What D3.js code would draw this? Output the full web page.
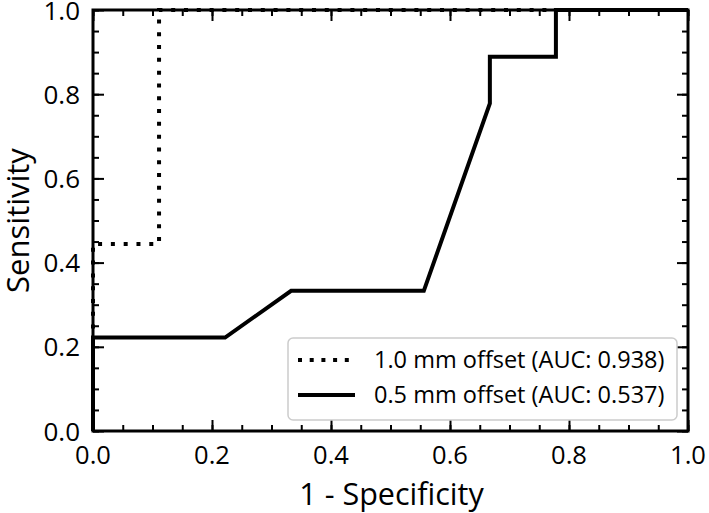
<!DOCTYPE html>
<html><head><meta charset="utf-8">
<script src="https://cdn.jsdelivr.net/npm/d3@7"></script>
<style>body{margin:0;background:#fff}svg{display:block}text{font-family:"Open Sans",sans-serif;fill:#000}</style>
</head><body><svg id="c" width="709" height="513"></svg>
<script>
// Data
const fpr1 = [0, 0, 0.111, 0.111, 1.0];
const tpr1 = [0, 0.444, 0.444, 1.0, 1.0];
const fpr2 = [0, 0, 0.222, 0.333, 0.556, 0.667, 0.667, 0.778, 0.778, 1.0];
const tpr2 = [0, 0.222, 0.222, 0.333, 0.333, 0.778, 0.889, 0.889, 1.0, 1.0];
const seriesNames = ["1.0 mm offset (AUC: 0.938)", "0.5 mm offset (AUC: 0.537)"];
const majorTicks = [0, 0.2, 0.4, 0.6, 0.8, 1.0];
const minorTicks = d3.range(0, 1.0001, 0.05);

const svg = d3.select("#c");
const L = 93, R = 688, T = 10, B = 431;
const x = d3.scaleLinear().domain([0, 1]).range([L, R]);
const y = d3.scaleLinear().domain([0, 1]).range([B, T]);
const fmt = d3.format(".1f");

const line = d3.line().x(d => x(d[0])).y(d => y(d[1]));
const d1 = fpr1.map((v, i) => [v, tpr1[i]]);
const d2 = fpr2.map((v, i) => [v, tpr2[i]]);

svg.append("path").attr("d", line(d1)).attr("fill", "none").attr("stroke", "#000")
  .attr("stroke-width", 4).attr("stroke-dasharray", "4,8.8");
svg.append("path").attr("d", line(d2)).attr("fill", "none").attr("stroke", "#000")
  .attr("stroke-width", 4).attr("stroke-linejoin", "miter");

// Axes with inward ticks on all sides
function addAxis(axisGen, tx, ty, ticks, size) {
  const g = svg.append("g").attr("transform", `translate(${tx},${ty})`)
    .call(axisGen.tickValues(ticks).tickSize(-size).tickFormat(""));
  g.select(".domain").remove();
  g.selectAll("line").attr("stroke", "#000").attr("stroke-width", 2);
  g.selectAll("text").remove();
  return g;
}
addAxis(d3.axisBottom(x), 0, B, minorTicks, 6);
addAxis(d3.axisBottom(x), 0, B, majorTicks, 11);
addAxis(d3.axisTop(x), 0, T, minorTicks, 6);
addAxis(d3.axisTop(x), 0, T, majorTicks, 11);
addAxis(d3.axisLeft(y), L, 0, minorTicks, 6);
addAxis(d3.axisLeft(y), L, 0, majorTicks, 11);
addAxis(d3.axisRight(y), R, 0, minorTicks, 6);
addAxis(d3.axisRight(y), R, 0, majorTicks, 11);

// Tick labels
svg.append("g").selectAll("text").data(majorTicks).join("text")
  .attr("x", d => x(d)).attr("y", 464).attr("text-anchor", "middle")
  .style("font-size", "25.5px").text(fmt);
svg.append("g").selectAll("text").data(majorTicks).join("text")
  .attr("x", 80).attr("y", d => y(d) + 9.5).attr("text-anchor", "end")
  .style("font-size", "26px").text(fmt);

// Frame
svg.append("rect").attr("x", L).attr("y", T).attr("width", R - L).attr("height", B - T)
  .attr("fill", "none").attr("stroke", "#000").attr("stroke-width", 3);

// Axis titles
svg.append("text").attr("x", (L + R) / 2 + 1).attr("y", 505).attr("text-anchor", "middle")
  .style("font-size", "30.5px").text("1 - Specificity");
svg.append("text").attr("transform", `translate(29,${(T + B) / 2}) rotate(-90)`)
  .attr("text-anchor", "middle").style("font-size", "31px").text("Sensitivity");

// Legend
const lg = svg.append("g");
lg.append("rect").attr("x", 288).attr("y", 338).attr("width", 389).attr("height", 82)
  .attr("rx", 5).attr("fill", "#fff").attr("fill-opacity", 0.8)
  .attr("stroke", "#ccc").attr("stroke-width", 1.5);
const rows = [{ y: 360, dash: "4,7.7" }, { y: 395, dash: null }];
rows.forEach((r, i) => {
  lg.append("line").attr("x1", 298).attr("x2", 355).attr("y1", r.y).attr("y2", r.y)
    .attr("stroke", "#000").attr("stroke-width", 4).attr("stroke-dasharray", r.dash);
  lg.append("text").attr("x", 374).attr("y", r.y).attr("dy", "0.36em")
    .style("font-size", "23.5px").text(seriesNames[i]);
});
</script></body></html>
